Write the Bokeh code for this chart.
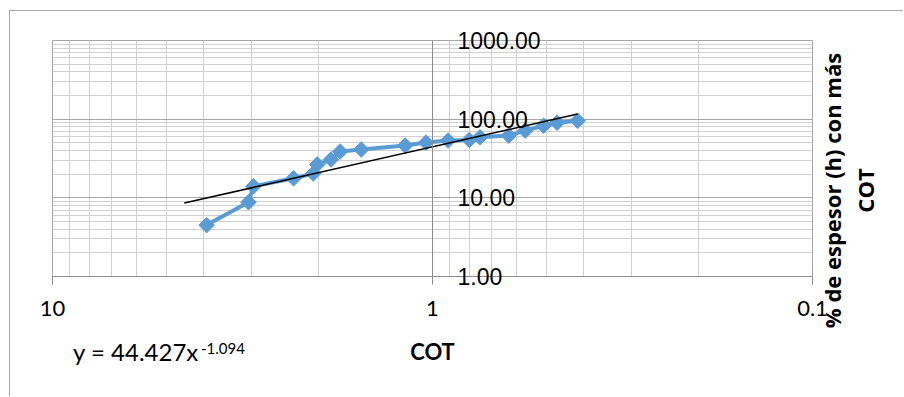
import math
from bokeh.plotting import figure
from bokeh.models import Range1d, FixedTicker, Label, Grid, LogAxis, Span
from bokeh.embed import file_html
from bokeh.resources import INLINE

# ---- data ----
cot = [3.93, 3.05, 2.96, 2.32, 2.06, 2.01, 1.85, 1.75, 1.54, 1.18,
       1.04, 0.91, 0.80, 0.75, 0.63, 0.57, 0.51, 0.47, 0.415]
pct = [4.5, 8.8, 14.0, 17.7, 20.4, 26.5, 30.7, 38.8, 41.1, 46.2,
       50.4, 53.5, 54.5, 58.8, 61.8, 71.5, 82.7, 90.3, 95.7]

# power trendline  y = a * x^b
trend_a = 44.427
trend_b = -1.094
trend_x = [4.5, 0.415]

x_ticks = [10, 1, 0.1]
x_tick_labels = ["10", "1", "0.1"]
y_ticks = [1, 10, 100, 1000]
y_tick_labels = ["1.00", "10.00", "100.00", "1000.00"]

x_title = "COT"
y_title = "% de espesor (h) con más\nCOT"
eq_main = "y = 44.427x"
eq_sup = "-1.094"
# horizontal anchors (COT scale) for the equation text pieces
eq_main_at = 6.03
eq_sup_at = 3.56

BLUE = "#5B9BD5"
FONT = "Lato"

p = figure(width=894, height=386, x_axis_type="log", y_axis_type="log",
           x_range=Range1d(10, 0.1), y_range=Range1d(1, 1000),
           output_backend="svg", toolbar_location=None,
           y_axis_location=None,
           min_border_left=42, min_border_right=92,
           min_border_top=29, min_border_bottom=121)
p.styles = {"margin-left": "9px", "margin-top": "10px",
            "border-left": "1px solid #a6a6a6", "border-top": "1px solid #a6a6a6"}
p.outline_line_color = "#a6a6a6"
p.background_fill_color = "white"
p.border_fill_color = "white"

for g in p.grid:
    g.visible = False

x_minor = [m * d for d in (0.1, 1) for m in range(2, 10)]
y_minor = [m * d for d in (1, 10, 100) for m in range(2, 10)]

gx = Grid(dimension=0, ticker=FixedTicker(ticks=x_ticks, minor_ticks=x_minor),
          grid_line_color="#b4b4b4", minor_grid_line_color="#d0d0d0")
gy = Grid(dimension=1, ticker=FixedTicker(ticks=y_ticks, minor_ticks=y_minor),
          grid_line_color="#a6a6a6", minor_grid_line_color="#d0d0d0")
p.add_layout(gx, "center")
p.add_layout(gy, "center")

# vertical axis line crossing at x = 1
p.add_layout(Span(location=1, dimension="height", line_color="#8c8c8c", line_width=1))

# x axis
ax = p.xaxis[0]
ax.ticker = FixedTicker(ticks=x_ticks)
ax.major_label_overrides = {t: s for t, s in zip(x_ticks, x_tick_labels)}
ax.axis_line_color = "#8c8c8c"
ax.major_tick_line_color = "#8c8c8c"
ax.major_tick_out = 8
ax.major_tick_in = 0
ax.minor_tick_line_color = None
ax.major_label_text_font = FONT
ax.major_label_text_font_size = "22px"
ax.major_label_text_color = "black"
ax.major_label_standoff = 16
ax.axis_label = x_title
ax.axis_label_text_font = FONT
ax.axis_label_text_font_style = "bold"
ax.axis_label_text_font_size = "22px"
ax.axis_label_text_color = "black"
ax.axis_label_standoff = 19

# equation text, drawn as tick labels of two bare axes below
def bare_axis(at, text, size, standoff):
    a = LogAxis(ticker=FixedTicker(ticks=[at]))
    a.major_label_overrides = {at: text}
    a.axis_line_color = None
    a.major_tick_line_color = None
    a.minor_tick_line_color = None
    a.major_tick_out = 0
    a.major_tick_in = 0
    a.major_label_standoff = standoff
    a.major_label_text_font = FONT
    a.major_label_text_font_size = size
    a.major_label_text_color = "black"
    return a

p.add_layout(bare_axis(eq_main_at, eq_main, "24px", -31), "below")
p.add_layout(bare_axis(eq_sup_at, eq_sup, "15px", -26), "below")

# y title (right side panel)
p.add_layout(Label(x=36, y=86, x_units="screen", y_units="screen", text=y_title,
                   angle=math.pi / 2, text_align="center", text_baseline="middle",
                   text_font="Open Sans", text_font_style="bold", text_font_size="22px",
                   text_color="black", text_line_height=1.07), "right")

# y tick labels next to the crossing axis (right-panel axis pulled inwards)
yax = LogAxis(ticker=FixedTicker(ticks=y_ticks))
yax.major_label_overrides = {t: s for t, s in zip(y_ticks, y_tick_labels)}
yax.axis_line_color = None
yax.major_tick_line_color = None
yax.minor_tick_line_color = None
yax.major_tick_out = 0
yax.major_tick_in = 0
yax.major_label_standoff = -417
yax.major_label_text_font = "Liberation Sans"
yax.major_label_text_font_size = "23px"
yax.major_label_text_color = "black"
p.add_layout(yax, "right")

# series
p.line(cot, pct, line_width=4, color=BLUE)
p.scatter(cot, pct, marker="square", angle=math.pi / 4, size=11, color=BLUE)

# trendline
trend_y = [trend_a * x ** trend_b for x in trend_x]
p.line(trend_x, trend_y, line_color="black", line_width=1.5)

open("out.html", "w").write(file_html(p, INLINE))
